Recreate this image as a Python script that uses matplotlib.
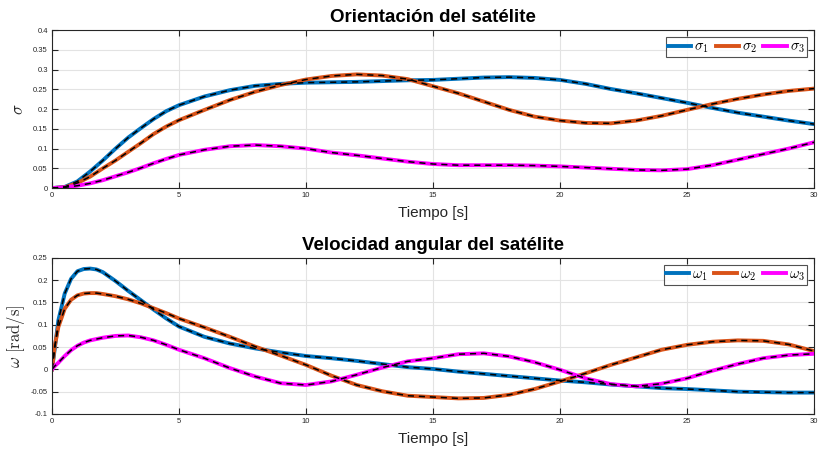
import numpy as np
from matplotlib import pyplot as plt

plt.rcParams['font.family'] = ['Liberation Sans', 'DejaVu Sans']
plt.rcParams['mathtext.fontset'] = 'cm'

# tiempo [s] para la orientacion
t_sig = [0, 0.5, 1, 1.5, 2, 2.5, 3, 3.5, 4, 4.5, 5, 6, 7, 8, 9, 10, 11, 12, 13, 14, 15,
         16, 17, 18, 19, 20, 21, 22, 23, 24, 25, 26, 27, 28, 29, 30]

# orientacion (MRP)
sigma1 = [0, 0.003, 0.017, 0.042, 0.07, 0.1, 0.128, 0.152, 0.175, 0.195, 0.21, 0.232, 0.248,
          0.259, 0.264, 0.267, 0.268, 0.269, 0.271, 0.273, 0.274, 0.277, 0.28, 0.281, 0.279,
          0.274, 0.264, 0.251, 0.24, 0.228, 0.216, 0.203, 0.191, 0.181, 0.171, 0.162]
sigma2 = [0, 0.002, 0.013, 0.029, 0.05, 0.07, 0.092, 0.114, 0.137, 0.156, 0.172, 0.198, 0.223,
          0.244, 0.261, 0.275, 0.284, 0.288, 0.285, 0.276, 0.258, 0.24, 0.219, 0.198, 0.181,
          0.171, 0.165, 0.164, 0.171, 0.183, 0.198, 0.213, 0.226, 0.237, 0.246, 0.252]
sigma3 = [0, 0.002, 0.006, 0.012, 0.02, 0.03, 0.04, 0.051, 0.063, 0.074, 0.084, 0.097, 0.106,
          0.109, 0.106, 0.1, 0.09, 0.083, 0.075, 0.067, 0.061, 0.058, 0.058, 0.058, 0.057,
          0.055, 0.052, 0.049, 0.046, 0.045, 0.048, 0.058, 0.072, 0.086, 0.1, 0.116]

# tiempo [s] para la velocidad angular
t_om = [0, 0.1, 0.25, 0.5, 0.75, 1, 1.25, 1.5, 1.75, 2, 2.5, 3, 3.5, 4, 4.5, 5, 6, 7, 8, 9,
        10, 11, 12, 13, 14, 15, 16, 17, 18, 19, 20, 21, 22, 23, 24, 25, 26, 27, 28, 29, 30]

# velocidad angular [rad/s]
omega1 = [0, 0.043, 0.11, 0.17, 0.203, 0.22, 0.225, 0.226, 0.224, 0.218, 0.198, 0.176, 0.155,
          0.134, 0.114, 0.096, 0.073, 0.058, 0.047, 0.038, 0.03, 0.025, 0.019, 0.012, 0.005,
          0.001, -0.005, -0.01, -0.015, -0.02, -0.025, -0.029, -0.034, -0.038, -0.042, -0.044,
          -0.047, -0.05, -0.051, -0.052, -0.052]
omega2 = [0, 0.05, 0.095, 0.136, 0.156, 0.166, 0.17, 0.171, 0.171, 0.169, 0.164, 0.157, 0.148,
          0.137, 0.126, 0.114, 0.094, 0.073, 0.051, 0.031, 0.01, -0.014, -0.035, -0.049, -0.059,
          -0.062, -0.065, -0.064, -0.057, -0.044, -0.027, -0.009, 0.01, 0.027, 0.044, 0.055,
          0.062, 0.065, 0.064, 0.056, 0.041]
omega3 = [0, 0.007, 0.015, 0.03, 0.043, 0.053, 0.06, 0.065, 0.068, 0.071, 0.075, 0.076, 0.072,
          0.065, 0.055, 0.044, 0.025, 0.003, -0.016, -0.031, -0.035, -0.027, -0.012, 0.004,
          0.018, 0.025, 0.034, 0.036, 0.029, 0.016, -0.001, -0.02, -0.033, -0.038, -0.032,
          -0.02, -0.003, 0.012, 0.025, 0.032, 0.035]

colors = ['#0072BD', '#D95319', '#FF00FF']
gray = '#262626'


def style_axes(ax, ylim, yticks):
    ax.set_xlim(0, 30)
    ax.set_ylim(*ylim)
    ax.set_xticks([0, 5, 10, 15, 20, 25, 30])
    ax.set_yticks(yticks)
    ax.set_yticklabels([f"{v:g}" for v in yticks])
    ax.grid(True, color='#e3e3e3', linewidth=0.8)
    ax.set_axisbelow(True)
    ax.tick_params(direction='in', top=True, right=True, labelsize=5.5,
                   colors=gray, length=4, width=0.8, pad=3)
    for s in ax.spines.values():
        s.set_color(gray)
        s.set_linewidth(0.8)
    ax.set_xlabel('Tiempo [s]', fontsize=11, color=gray, labelpad=5)


fig = plt.figure(figsize=(8.18, 4.5), dpi=100)
ax1 = fig.add_axes([0.0636, 0.582, 0.9315, 0.351])
ax2 = fig.add_axes([0.0636, 0.080, 0.9315, 0.347])

panels = [(ax1, t_sig, [sigma1, sigma2, sigma3], [r'$\sigma_1$', r'$\sigma_2$', r'$\sigma_3$']),
          (ax2, t_om, [omega1, omega2, omega3], [r'$\omega_1$', r'$\omega_2$', r'$\omega_3$'])]
for ax, tt, series, names in panels:
    for y, c, n in zip(series, colors, names):
        ax.plot(tt, y, color=c, lw=2.8, label=n)
    for y in series:
        ax.plot(tt, y, color='k', lw=1.1, ls=(0, (4, 3.2)))
    leg = ax.legend(loc='upper right', ncol=3, fontsize=10.5, frameon=True, fancybox=False,
                    handlelength=1.6, handletextpad=0.2, columnspacing=0.45,
                    borderpad=0.15, borderaxespad=0.5)
    leg.get_frame().set_edgecolor(gray)
    leg.get_frame().set_linewidth(0.8)

style_axes(ax1, (0, 0.4), [0, 0.05, 0.1, 0.15, 0.2, 0.25, 0.3, 0.35, 0.4])
style_axes(ax2, (-0.1, 0.25), [-0.1, -0.05, 0, 0.05, 0.1, 0.15, 0.2, 0.25])
ax1.set_ylabel(r'$\sigma$', fontsize=12, color=gray)
ax2.set_ylabel(r'$\omega\ [\mathrm{rad/s}]$', fontsize=12, color=gray)
ax1.yaxis.set_label_coords(-0.034, 0.5)
ax2.yaxis.set_label_coords(-0.033, 0.5)
ax1.set_title('Orientación del satélite', fontsize=13.5, fontweight='bold', pad=6)
ax2.set_title('Velocidad angular del satélite', fontsize=13.5, fontweight='bold', pad=6)

plt.savefig('out.png', dpi=100)
